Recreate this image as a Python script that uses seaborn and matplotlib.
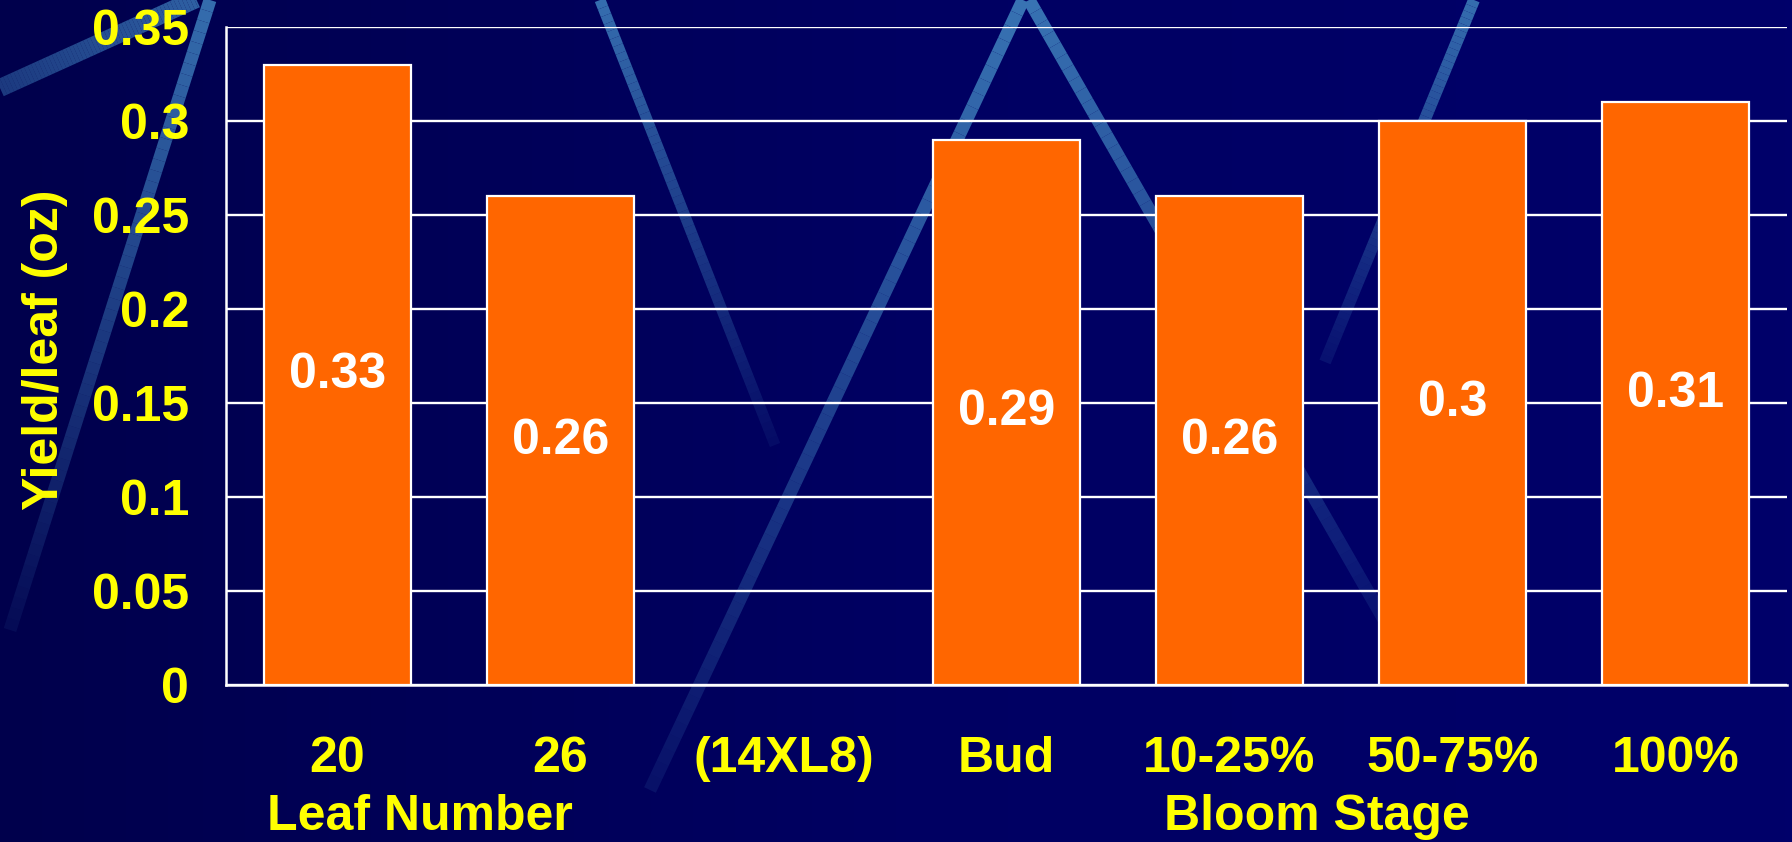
"""
Yield per leaf by leaf number and bloom stage (slide-style bar chart)
"""

import numpy as np
import pandas as pd
import matplotlib
matplotlib.use("Agg")
import matplotlib.pyplot as plt
import seaborn as sns
from matplotlib import transforms
from matplotlib.collections import LineCollection
from matplotlib.colors import LinearSegmentedColormap

# chart data
categories = ["20", "26", "(14XL8)", "Bud", "10-25%", "50-75%", "100%"]
yield_per_leaf = [0.33, 0.26, None, 0.29, 0.26, 0.30, 0.31]
group_names = ["Leaf Number", "Bloom Stage"]
y_ticks = [0, 0.05, 0.1, 0.15, 0.2, 0.25, 0.3, 0.35]

YELLOW = "#FFFF00"
ORANGE = "#FF6600"
STREAK = (0.22, 0.45, 0.70)
FS = 36


def draw_streak(ax, p0, p1, width_px, a0=0.9, a1=0.15):
    """decorative light-blue streak that fades along its length"""
    t = np.linspace(0, 1, 60)
    pts = np.column_stack([p0[0] + (p1[0] - p0[0]) * t,
                           p0[1] + (p1[1] - p0[1]) * t]).reshape(-1, 1, 2)
    segs = np.concatenate([pts[:-1], pts[1:]], axis=1)
    alphas = np.linspace(a0, a1, len(segs))
    lc = LineCollection(segs, colors=[(*STREAK, a) for a in alphas],
                        linewidths=width_px * 0.72, capstyle="butt")
    ax.add_collection(lc)


def make_chart():
    sns.set_style("white")
    plt.rcParams["font.family"] = ["Liberation Sans", "DejaVu Sans"]
    plt.rcParams["font.weight"] = "bold"

    fig = plt.figure(figsize=(17.92, 8.42), dpi=100)

    # background: navy gradient with a few streaks (pixel coords)
    bg = fig.add_axes([0, 0, 1, 1], zorder=-1)
    bg.set_xlim(0, 1792)
    bg.set_ylim(842, 0)
    bg.axis("off")
    cmap = LinearSegmentedColormap.from_list("navy", ["#00004C", "#000062", "#00006A"])
    grad = np.linspace(0, 1, 256)[None, :] * np.ones((20, 1))
    bg.imshow(grad, extent=[0, 1792, 842, 0], cmap=cmap, aspect="auto")
    draw_streak(bg, (0, 88), (205, -5), 18, 0.5, 0.85)
    draw_streak(bg, (210, 0), (10, 630), 13, 0.95, 0.1)
    draw_streak(bg, (600, 0), (775, 445), 11, 0.95, 0.1)
    draw_streak(bg, (1023, 0), (650, 790), 13, 1.0, 0.15)
    draw_streak(bg, (1029, 0), (1410, 665), 13, 1.0, 0.1)
    draw_streak(bg, (1474, 0), (1325, 362), 12, 0.95, 0.15)

    df = pd.DataFrame({"stage": categories, "yield": yield_per_leaf}).dropna()

    ax = fig.add_axes([226 / 1792, 1 - 685 / 842, 1561 / 1792, 658 / 842])
    ax.set_facecolor("none")

    sns.barplot(data=df, x="stage", y="yield", order=categories,
                color=ORANGE, saturation=1, edgecolor="white", linewidth=1.6,
                width=0.66, errorbar=None, ax=ax)

    ax.set_xlim(-0.5, len(categories) - 0.5)
    ax.set_ylim(0, 0.35)
    ax.set_yticks(y_ticks)
    ax.set_yticklabels([f"{t:g}" for t in y_ticks])
    ax.set_xlabel("")

    # grid and spines
    ax.set_axisbelow(True)
    ax.yaxis.grid(True, color="white", linewidth=1.7)
    ax.xaxis.grid(False)
    for side in ["top", "right"]:
        ax.spines[side].set_visible(False)
    for side in ["left", "bottom"]:
        ax.spines[side].set_color("white")
        ax.spines[side].set_linewidth(1.8)

    ax.tick_params(axis="y", colors="white", labelcolor=YELLOW, labelsize=FS,
                   length=11.5, width=1.6, pad=15)
    ax.tick_params(axis="x", which="major", length=0, pad=37,
                   labelcolor=YELLOW, labelsize=FS)
    ax.set_xticks(np.arange(-0.5, len(categories), 1), minor=True)
    ax.tick_params(axis="x", which="minor", length=9.5, width=1.6, color="white")

    # value labels in the middle of each bar
    ax.bar_label(ax.containers[0], labels=[f"{v:g}" for v in df["yield"]],
                 label_type="center", color="white", fontsize=FS, fontweight="bold")

    ax.set_ylabel("Yield/leaf (oz)", color=YELLOW, fontsize=FS, fontweight="bold")
    ax.yaxis.set_label_coords(-0.116, 0.51)
    ax.yaxis.label.set_va("center")

    # group captions under the category labels
    trans = transforms.blended_transform_factory(ax.transData, fig.transFigure)
    for name, xpos in zip(group_names, [0.37, 4.39]):
        ax.text(xpos, 0.0145, name, transform=trans, ha="center", va="baseline",
                color=YELLOW, fontsize=FS, fontweight="bold", clip_on=False)

    fig.savefig("out.png", dpi=100)


if __name__ == "__main__":
    make_chart()
